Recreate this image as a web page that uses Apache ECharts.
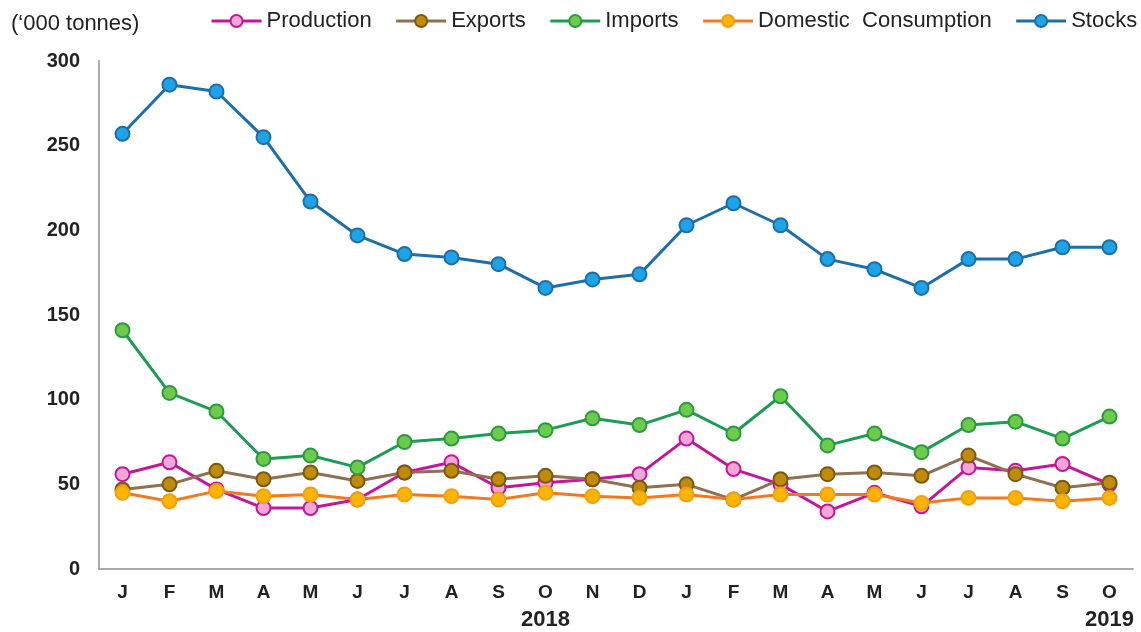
<!DOCTYPE html>
<html>
<head>
<meta charset="utf-8">
<script src="https://cdn.jsdelivr.net/npm/echarts@6/dist/echarts.min.js"></script>
<style>html,body{margin:0;padding:0;background:#fff;}#c{width:1141px;height:632px;}</style>
</head>
<body>
<div id="c"></div>
<script>
const months = ['J','F','M','A','M','J','J','A','S','O','N','D','J','F','M','A','M','J','J','A','S','O'];
const yearLabels = ['','','','','','','','','','2018','','','','','','','','','','','','2019'];
const production = [56,63,47,36,36,41,57,63,48,51,53,56,77,59,50,34,45,37,60,58,62,50];
const exports_ = [47,50,58,53,57,52,57,58,53,55,53,48,50,41,53,56,57,55,67,56,48,51];
const imports_ = [141,104,93,65,67,60,75,77,80,82,89,85,94,80,102,73,80,69,85,87,77,90];
const domestic = [45,40,46,43,44,41,44,43,41,45,43,42,44,41,44,44,44,39,42,42,40,42];
const stocks = [257,286,282,255,217,197,186,184,180,166,171,174,203,216,203,183,177,166,183,183,190,190];

const seriesDefs = [
  {name:'Production', data: production, line:'#C4169A', fill:'#F2A7D6', border:'#C4169A'},
  {name:'Exports', data: exports_, line:'#8E7152', fill:'#C08A0A', border:'#7A5A10'},
  {name:'Imports', data: imports_, line:'#1E9B55', fill:'#6CCB4A', border:'#2E9A40'},
  {name:'Domestic  Consumption', data: domestic, line:'#F07A22', fill:'#FFB400', border:'#F0A010'},
  {name:'Stocks', data: stocks, line:'#1F6EA8', fill:'#1CA3E8', border:'#1F6EA8'}
];

const chart = echarts.init(document.getElementById('c'));
chart.setOption({
  backgroundColor:'#fff',
  animation:false,
  title:{text:"(‘000 tonnes)", left:6, top:8, textStyle:{fontFamily:'Liberation Sans', fontSize:22, fontWeight:'normal', color:'#222'}},
  legend:{
    top:10, left:210, padding:0, itemWidth:50, itemHeight:15, itemGap:23,
    textStyle:{fontFamily:'Liberation Sans', fontSize:22, color:'#222'},
    lineStyle:{width:3},
    data: seriesDefs.map(s=>s.name)
  },
  grid:{left:99, right:8, top:61, bottom:63, outerBoundsMode:'none', containLabel:false},
  xAxis:{
    type:'category', data: months, boundaryGap:true,
    axisLine:{lineStyle:{color:'#aaa', width:2}},
    axisTick:{show:false},
    axisLabel:{
      interval:0, margin:12,
      formatter:function(v, i){ return yearLabels[i] ? '{m|'+v+'}\n{y|'+yearLabels[i]+'}' : '{m|'+v+'}'; },
      rich:{
        m:{fontFamily:'Liberation Sans', fontWeight:'bold', fontSize:19, color:'#222', lineHeight:24},
        y:{fontFamily:'Liberation Sans', fontWeight:'bold', fontSize:22, color:'#222', lineHeight:30}
      }
    }
  },
  yAxis:{
    type:'value', min:0, max:300, interval:50,
    axisLine:{show:true, lineStyle:{color:'#aaa', width:2}},
    axisTick:{show:false},
    splitLine:{show:false},
    axisLabel:{fontFamily:'Liberation Sans', fontWeight:'bold', fontSize:20, color:'#222', margin:19}
  },
  series: seriesDefs.map(s=>({
    name:s.name, type:'line', data:s.data,
    symbol:'circle', symbolSize:14,
    lineStyle:{color:s.line, width:3},
    itemStyle:{color:s.fill, borderColor:s.border, borderWidth:2},
    emphasis:{disabled:true}
  }))
});
</script>
</body>
</html>
